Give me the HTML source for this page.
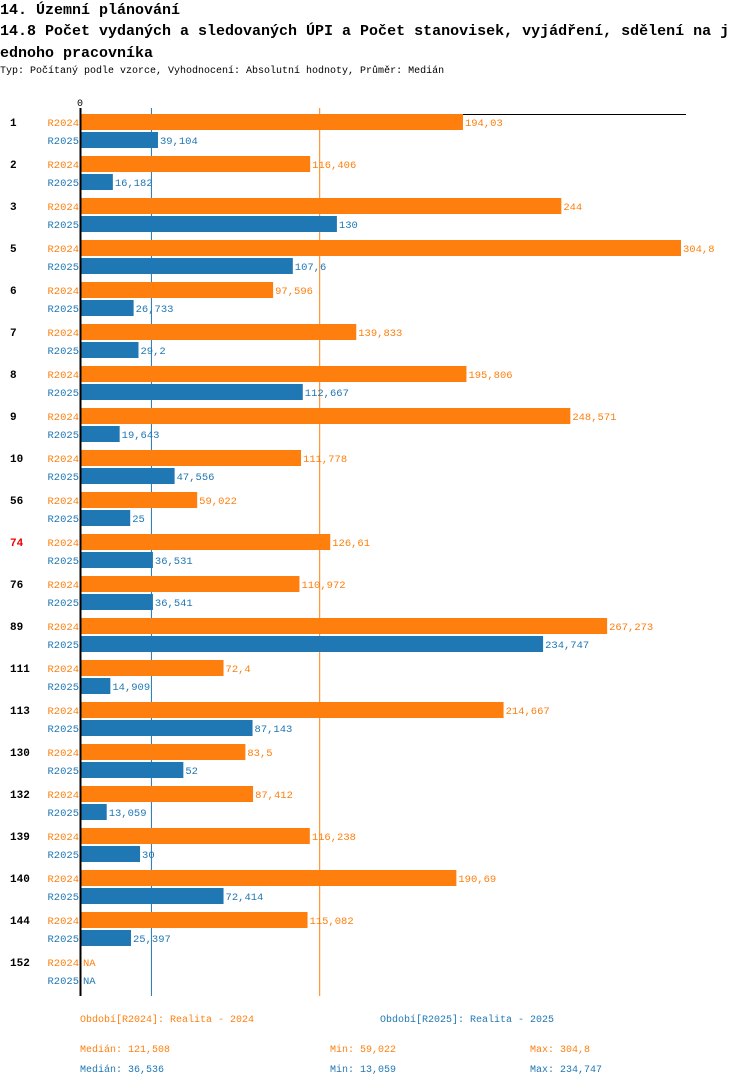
<!DOCTYPE html>
<html><head><meta charset="utf-8"><style>
body{margin:0;background:#fff;width:750px;height:1086px;overflow:hidden;font-family:"Liberation Mono",monospace;}
.t1{position:absolute;left:0;top:0;font-size:15px;font-weight:bold;line-height:22px;}
.t2{position:absolute;left:0;top:21px;width:732px;font-size:15px;font-weight:bold;line-height:22px;word-break:break-all;}
.t3{position:absolute;left:0;top:66px;font-size:10px;}
svg{position:absolute;left:0;top:0}
</style></head><body>
<div class="t1">14. Územní plánování</div>
<div class="t2">14.8 Počet vydaných a sledovaných ÚPI a Počet stanovisek, vyjádření, sdělení na jednoho pracovníka</div>
<div class="t3">Typ: Počítaný podle vzorce, Vyhodnocení: Absolutní hodnoty, Průměr: Medián</div>
<svg id="c" width="750" height="1086"></svg>
<script>
const categories=["1","2","3","5","6","7","8","9","10","56","74","76","89","111","113","130","132","139","140","144","152"];
const s2024=[194.03,116.406,244,304.8,97.596,139.833,195.806,248.571,111.778,59.022,126.61,110.972,267.273,72.4,214.667,83.5,87.412,116.238,190.69,115.082,null];
const s2025=[39.104,16.182,130,107.6,26.733,29.2,112.667,19.643,47.556,25,36.531,36.541,234.747,14.909,87.143,52,13.059,30,72.414,25.397,null];
const labels2024=["194,03","116,406","244","304,8","97,596","139,833","195,806","248,571","111,778","59,022","126,61","110,972","267,273","72,4","214,667","83,5","87,412","116,238","190,69","115,082","NA"];
const labels2025=["39,104","16,182","130","107,6","26,733","29,2","112,667","19,643","47,556","25","36,531","36,541","234,747","14,909","87,143","52","13,059","30","72,414","25,397","NA"];
const medians=[121.508,36.536];
const O="#ff7f0e",B="#1f77b4";
const svg=document.getElementById('c');
const NS="http://www.w3.org/2000/svg";
const x0=81,xMax=304.8,wMax=600;
const xs=v=>x0+v*wMax/xMax;
const yg=i=>114+42*i;
function el(t,a,txt){const e=document.createElementNS(NS,t);for(const k in a)e.setAttribute(k,a[k]);if(txt!=null)e.textContent=txt;svg.appendChild(e);return e;}
let g=el('line',{x1:xs(medians[1])-1.5,x2:xs(medians[1])-1.5,y1:108,y2:996,stroke:B,'stroke-width':1});


g=el('line',{x1:xs(medians[0])-0.5,x2:xs(medians[0])-0.5,y1:108,y2:996,stroke:O,'stroke-width':1});


g=el('line',{x1:x0,x2:686,y1:114.5,y2:114.5,stroke:'#000','stroke-width':1});


g=el('text',{x:x0-1,y:106,'font-size':10,'text-anchor':'middle','font-family':'Liberation Mono'},'0');


categories.forEach((c,i)=>{
  const y=yg(i);
  let t=el('text',{x:10,y:y+12,'font-size':11,'font-weight':'bold','font-family':'Liberation Mono',fill:c==="74"?'#e00':'#000'},c);
  
  
  [[s2024,labels2024,O,"R2024",0],[s2025,labels2025,B,"R2025",18]].forEach(([s,l,col,nm,dy])=>{
    let a=el('text',{x:79,y:y+dy+12,'font-size':10.5,'text-anchor':'end',fill:col,'font-family':'Liberation Mono'},nm);
    
    
    const v=s[i];
    let xe=x0;
    if(v!=null){
      xe=xs(v);
      let r=el('rect',{x:x0,y:y+dy,width:xe-x0,height:16,fill:col});
      
      
    }
    let vt=el('text',{x:xe+2,y:y+dy+12,'font-size':10.5,fill:col,'font-family':'Liberation Mono'},l[i]);
    
    
  });
});
g=el('line',{x1:80.5,x2:80.5,y1:108,y2:996,stroke:'#000','stroke-width':2});


const legend=[[80,1022,O,"Období[R2024]: Realita - 2024"],[380,1022,B,"Období[R2025]: Realita - 2025"],
[80,1052,O,"Medián: 121,508"],[330,1052,O,"Min: 59,022"],[530,1052,O,"Max: 304,8"],
[80,1072,B,"Medián: 36,536"],[330,1072,B,"Min: 13,059"],[530,1072,B,"Max: 234,747"]];
legend.forEach(([x,y,col,t])=>{
  let e=el('text',{x:x,y:y,'font-size':10,fill:col,'font-family':'Liberation Mono'},t);
  
  
});
</script>
</body></html>
